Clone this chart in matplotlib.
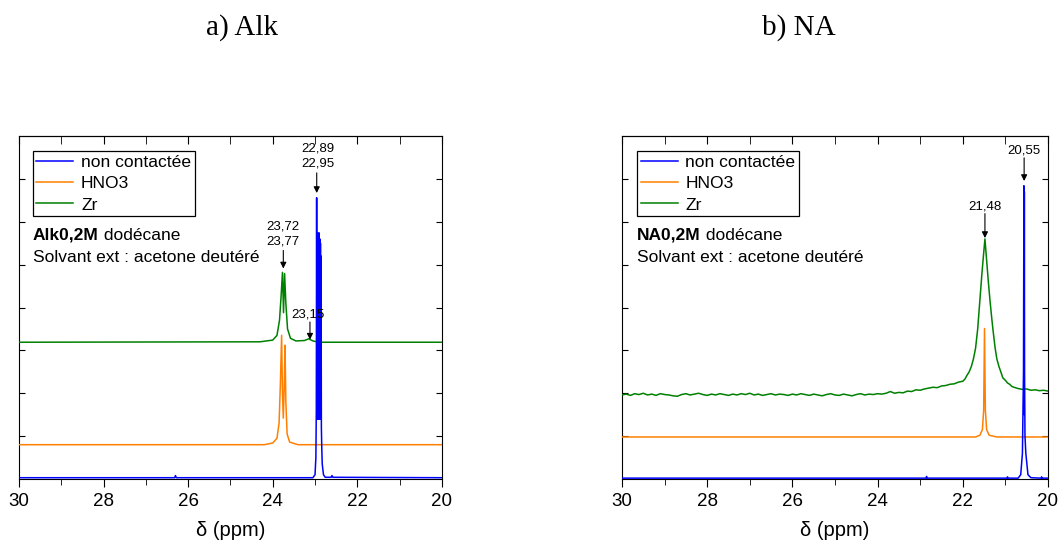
import matplotlib.pyplot as plt
from matplotlib.ticker import MultipleLocator

plt.rcParams['font.family'] = ['Liberation Sans', 'DejaVu Sans']

# ---- data : panel a) Alk ----
alk_blue_ppm = [30.0, 26.32, 26.30, 26.28, 23.05, 23.0, 22.98, 22.97, 22.962, 22.955,
                22.948, 22.94, 22.932, 22.925, 22.918, 22.91, 22.902, 22.895, 22.888,
                22.88, 22.872, 22.865, 22.858, 22.85, 22.84, 22.83, 22.8, 22.76,
                22.62, 22.60, 22.58, 20.0]
alk_blue_int = [0.03, 0.03, 0.08, 0.03, 0.03, 0.1, 0.5, 1.6, 6.56, 1.4,
                5.7, 1.4, 5.74, 1.4, 5.7, 1.4, 5.74, 1.4, 5.6,
                1.4, 5.5, 1.4, 5.2, 1.2, 0.7, 0.35, 0.1, 0.04,
                0.04, 0.08, 0.04, 0.03]

alk_orange_ppm = [30.0, 24.2, 24.0, 23.9, 23.85, 23.82, 23.79, 23.77, 23.75, 23.73,
                  23.71, 23.69, 23.66, 23.6, 23.4, 20.0]
alk_orange_int = [0.8, 0.8, 0.84, 0.95, 1.3, 2.2, 3.35, 2.0, 1.42, 2.1,
                  3.12, 1.8, 1.05, 0.86, 0.8, 0.8]

alk_green_ppm = [30.0, 24.3, 24.0, 23.9, 23.84, 23.8, 23.77, 23.745, 23.72, 23.69,
                 23.65, 23.58, 23.45, 23.25, 23.15, 23.05, 22.9, 20.0]
alk_green_int = [3.19, 3.2, 3.24, 3.35, 3.7, 4.3, 4.82, 3.88, 4.79, 4.1,
                 3.5, 3.28, 3.22, 3.23, 3.27, 3.22, 3.19, 3.19]

# ---- data : panel b) NA ----
na_blue_ppm = [30.0, 22.86, 22.85, 22.84, 20.96, 20.95, 20.94, 20.7, 20.64, 20.6,
               20.575, 20.565, 20.56, 20.555, 20.55, 20.54, 20.52, 20.47, 20.4,
               20.16, 20.15, 20.14, 20.0]
na_blue_int = [0.02, 0.02, 0.06, 0.02, 0.02, 0.05, 0.02, 0.02, 0.1, 0.6,
               2.5, 6.84, 1.5, 6.7, 2.5, 1.0, 0.6, 0.1, 0.03,
               0.02, 0.05, 0.02, 0.02]

na_orange_ppm = [30.0, 21.7, 21.6, 21.54, 21.51, 21.49, 21.47, 21.44, 21.38, 21.2, 20.0]
na_orange_int = [0.98, 0.98, 1.02, 1.15, 1.6, 3.51, 1.6, 1.15, 1.02, 0.98, 0.98]

na_green_ppm = [30.0, 29.9, 29.8, 29.7, 29.6, 29.5, 29.4, 29.3, 29.2, 29.1,
                29.0, 28.9, 28.8, 28.7, 28.6, 28.5, 28.4, 28.3, 28.2, 28.1,
                28.0, 27.9, 27.8, 27.7, 27.6, 27.5, 27.4, 27.3, 27.2, 27.1,
                27.0, 26.9, 26.8, 26.7, 26.6, 26.5, 26.4, 26.3, 26.2, 26.1,
                26.0, 25.9, 25.8, 25.7, 25.6, 25.5, 25.4, 25.3, 25.2, 25.1,
                25.0, 24.9, 24.8, 24.7, 24.6, 24.5, 24.4, 24.3, 24.2, 24.1,
                24.0, 23.9, 23.8, 23.7, 23.6, 23.5, 23.4, 23.3, 23.2, 23.1,
                23.0, 22.9, 22.8, 22.7, 22.6, 22.5, 22.4, 22.3, 22.2, 22.1,
                22.0, 21.95, 21.9, 21.85, 21.8, 21.75, 21.7, 21.65, 21.6, 21.55,
                21.52, 21.48, 21.44, 21.4, 21.36, 21.32, 21.29, 21.24, 21.2, 21.15,
                21.1, 21.06, 21.0, 20.95, 20.9, 20.85, 20.8, 20.7, 20.6, 20.5,
                20.4, 20.3, 20.2, 20.1, 20.0]
na_green_int = [1.96, 1.98, 1.95, 1.99, 1.97, 2.00, 1.96, 1.98, 1.95, 1.99,
                1.97, 1.96, 1.94, 1.93, 1.97, 1.99, 1.96, 1.98, 2.00, 1.97,
                1.95, 1.98, 1.96, 1.99, 1.97, 1.95, 1.98, 1.96, 1.99, 1.97,
                2.00, 1.96, 1.98, 1.95, 1.97, 1.99, 1.96, 1.98, 1.97, 1.95,
                1.98, 1.96, 1.99, 1.97, 1.95, 1.98, 1.96, 1.94, 1.97, 1.99,
                1.96, 1.95, 1.98, 1.96, 1.94, 1.97, 1.99, 1.96, 1.98, 1.97,
                1.99, 1.98, 2.00, 2.04, 2.00, 2.02, 2.01, 2.05, 2.04, 2.08,
                2.07, 2.10, 2.12, 2.14, 2.13, 2.17, 2.18, 2.21, 2.22, 2.26,
                2.28, 2.33, 2.42, 2.50, 2.62, 2.80, 3.05, 3.50, 4.15, 4.80,
                5.15, 5.60, 5.10, 4.60, 4.15, 3.75, 3.47, 3.05, 2.80, 2.62,
                2.48, 2.36, 2.30, 2.24, 2.21, 2.16, 2.14, 2.11, 2.09, 2.10,
                2.07, 2.08, 2.06, 2.07, 2.05]

labels = ['non contactée', 'HNO3', 'Zr']
colors = ['#0000ff', '#ff8000', '#008000']

# annotations (label, ppm of arrow, arrow tail, arrow tip, text ppm, text y)
alk_notes = [("22,89\n22,95", 22.96, 7.14, 6.67, 22.93, 7.22),
             ("23,72\n23,77", 23.75, 5.33, 4.91, 23.75, 5.40),
             ("23,15", 23.12, 3.66, 3.25, 23.17, 3.70)]
na_notes = [("20,55", 20.56, 7.49, 6.95, 20.56, 7.52),
            ("21,48", 21.48, 6.19, 5.62, 21.48, 6.22)]

fig = plt.figure(figsize=(10.59, 5.41), dpi=100)
ax1 = fig.add_axes([0.0179, 0.1146, 0.3994, 0.634])
ax2 = fig.add_axes([0.5873, 0.1146, 0.4023, 0.634])


def draw_panel(ax, series, notes, bold, legx):
    # blue on top
    for (x, y), c, lab, z in zip(series, colors, labels, [5, 3, 4]):
        ax.plot(x, y, color=c, lw=1.1, label=lab, zorder=z)
    ax.set_xlim(30, 20)
    ax.set_ylim(0, 8)
    ax.xaxis.set_major_locator(MultipleLocator(2))
    ax.xaxis.set_minor_locator(MultipleLocator(1))
    ax.set_yticks(range(1, 8))
    ax.set_yticklabels([])
    ax.tick_params(axis='x', which='major', direction='out', length=6, labelsize=13.5, pad=4)
    ax.tick_params(axis='x', which='minor', direction='out', length=4)
    ax.tick_params(axis='y', which='major', direction='in', length=4, left=True, right=True)
    sec = ax.secondary_xaxis('top')
    sec.xaxis.set_major_locator(MultipleLocator(2))
    sec.xaxis.set_minor_locator(MultipleLocator(1))
    sec.tick_params(axis='x', which='both', direction='in', length=6, labeltop=False)
    ax.set_xlabel('δ (ppm)', fontsize=14.5, labelpad=8)

    leg = ax.legend(loc='upper left', bbox_to_anchor=(legx, 0.955), borderaxespad=0,
                    fontsize=12.6, frameon=True, fancybox=False, framealpha=1,
                    edgecolor='black', borderpad=0.2, labelspacing=0.34,
                    handlelength=2.1, handletextpad=0.45)
    leg.get_frame().set_linewidth(0.9)

    t1 = ax.text(legx, 0.711, bold, transform=ax.transAxes, fontsize=12.5,
                 fontweight='bold', va='center', ha='left')
    ax.annotate(' dodécane', xy=(1, 0), xycoords=t1, va='bottom', ha='left', fontsize=12.5)
    ax.text(legx, 0.647, 'Solvant ext : acetone deutéré', transform=ax.transAxes,
            fontsize=12.5, va='center', ha='left')

    for lab, xa, ytail, ytip, xt, yt in notes:
        ax.annotate('', xy=(xa, ytip), xytext=(xa, ytail),
                    arrowprops=dict(arrowstyle='-|>', color='black', lw=0.8,
                                    mutation_scale=9, shrinkA=0, shrinkB=0),
                    zorder=6)
        ax.text(xt, yt, lab, fontsize=9.5, ha='center', va='bottom',
                linespacing=1.35, zorder=6)


draw_panel(ax1, [(alk_blue_ppm, alk_blue_int), (alk_orange_ppm, alk_orange_int),
                 (alk_green_ppm, alk_green_int)], alk_notes, 'Alk0,2M', 0.033)
draw_panel(ax2, [(na_blue_ppm, na_blue_int), (na_orange_ppm, na_orange_int),
                 (na_green_ppm, na_green_int)], na_notes, 'NA0,2M', 0.036)

fig.text(242 / 1059, 1 - 28 / 541, 'a) Alk', family='Liberation Serif', fontsize=21,
         ha='center', va='center')
fig.text(799 / 1059, 1 - 28 / 541, 'b) NA', family='Liberation Serif', fontsize=21,
         ha='center', va='center')

fig.savefig('out.png', dpi=100)
